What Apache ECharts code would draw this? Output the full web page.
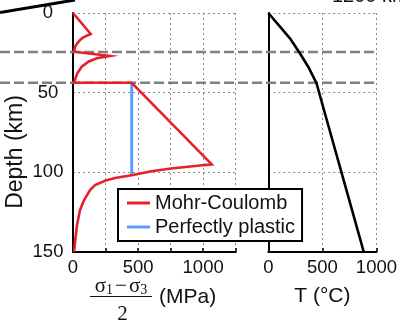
<!DOCTYPE html>
<html><head><meta charset="utf-8">
<script src="https://cdn.jsdelivr.net/npm/echarts@6/dist/echarts.min.js"></script>
<style>html,body{margin:0;padding:0;background:#fff}#c{width:400px;height:325px}</style>
</head><body><div id="c"></div>
<script>
// ---- data ----
const depthTicks = [0, 50, 100, 150];
const stressLabelTicks = [0, 500, 1000];
const seriesNames = ['Mohr-Coulomb', 'Perfectly plastic'];
// Mohr-Coulomb strength envelope: stress (MPa) vs depth (km)
const mcStress = [0, 136, 79, 54, 28, 15, 8, 284, 182, 118, 67, 33, 15, 8, 451, 1066, 976, 753, 592, 461, 323, 251, 169, 131, 85, 54, 31, 19, 8];
const mcDepth  = [0, 13.2, 15.3, 16.9, 19.5, 21.5, 24.3, 27.0, 28.4, 30.6, 33.7, 37.8, 42.0, 43.8, 43.8, 95.0, 95.7, 97.6, 99.5, 101.7, 103.6, 105.1, 108.0, 111.1, 117.4, 123.6, 133.0, 141.2, 150];
// Perfectly plastic (visible segment)
const ppStress = [451, 451];
const ppDepth  = [43.8, 101.7];
// Temperature profile
const tempT     = [0, 108, 200, 292, 369, 446, 489, 774, 883];
const tempDepth = [0, 8.6, 15.9, 25.3, 33.7, 44.1, 54.6, 123.6, 150];
// layer boundaries (dashed)
const boundaryDepths = [24.5, 43.8];

const FONT = "'Liberation Sans', Arial, sans-serif";
const SERIF = "'Liberation Serif', 'Times New Roman', serif";
const zip = (a, b) => a.map((v, i) => [v, b[i]]);

const chart = echarts.init(document.getElementById('c'), null, {renderer: 'canvas'});

const dotted = {show: true, lineStyle: {color: '#8a8a8a', width: 1, type: [2, 3]}};
const axisLineBlack = {show: true, onZero: false, lineStyle: {color: '#000', width: 2}};
const tickIn = {show: true, inside: true, length: 4, lineStyle: {color: '#000', width: 1.5}};
const lblStyle = {fontSize: 18.5, color: '#111', fontFamily: FONT};

const option = {
  animation: false,
  backgroundColor: '#fff',
  grid: [
    {left: 73, top: 13, width: 162.7, height: 239},
    {left: 268.3, top: 13, width: 108.4, height: 239},
    {left: 0, top: 13, width: 376.7, height: 239}
  ],
  xAxis: [
    {gridIndex: 0, type: 'value', min: 0, max: 1250, interval: 250,
     axisLine: axisLineBlack, axisTick: tickIn, splitLine: dotted,
     axisLabel: Object.assign({margin: 6, formatter: v => stressLabelTicks.includes(v) ? String(v) : ''}, lblStyle)},
    {gridIndex: 1, type: 'value', min: 0, max: 1000, interval: 500,
     axisLine: axisLineBlack, axisTick: tickIn, splitLine: dotted,
     axisLabel: Object.assign({margin: 6, formatter: v => String(v)}, lblStyle),
     name: 'T (°C)', nameLocation: 'middle', nameGap: 34,
     nameTextStyle: {fontSize: 21, color: '#111', fontFamily: FONT}},
    {gridIndex: 2, type: 'value', min: 0, max: 1, show: false}
  ],
  yAxis: [
    {gridIndex: 0, type: 'value', min: depthTicks[0], max: depthTicks[depthTicks.length - 1], interval: 50, inverse: true,
     axisLine: axisLineBlack, axisTick: {show: false}, splitLine: dotted,
     axisLabel: Object.assign({margin: 25, align: 'center', formatter: v => String(v)}, lblStyle)},
    {gridIndex: 1, type: 'value', min: 0, max: 150, interval: 50, inverse: true,
     axisLine: axisLineBlack, axisTick: {show: false}, splitLine: dotted,
     axisLabel: {show: false}},
    {gridIndex: 2, type: 'value', min: 0, max: 150, inverse: true, show: false}
  ],
  legend: {
    data: seriesNames.map(n => ({name: n, icon: 'rect'})),
    orient: 'vertical', left: 118, top: 189,
    borderColor: '#000', borderWidth: 2, backgroundColor: '#fff', borderRadius: 0,
    padding: [4, 7, 4, 9], itemGap: 4, itemWidth: 23, itemHeight: 3,
    selectedMode: false, z: 10,
    textStyle: {fontSize: 20, color: '#111', fontFamily: FONT}
  },
  series: [
    ...boundaryDepths.map(d => ({
      type: 'line', xAxisIndex: 2, yAxisIndex: 2, data: [[0, d], [1, d]],
      symbol: 'none', silent: true, z: 1,
      lineStyle: {color: '#808080', width: 2.5, type: [10, 4]}
    })),
    {name: seriesNames[1], type: 'line', xAxisIndex: 0, yAxisIndex: 0, data: zip(ppStress, ppDepth),
     symbol: 'none', z: 3, color: '#5b9cff', lineStyle: {color: '#5b9cff', width: 3}},
    {name: seriesNames[0], type: 'line', xAxisIndex: 0, yAxisIndex: 0, data: zip(mcStress, mcDepth),
     symbol: 'none', z: 4, color: '#e6212b', lineStyle: {color: '#e6212b', width: 2.6, join: 'miter'}},
    {name: 'T', type: 'line', xAxisIndex: 1, yAxisIndex: 1, data: zip(tempT, tempDepth),
     symbol: 'none', z: 4, color: '#000', lineStyle: {color: '#000', width: 2.6}}
  ],
  graphic: [
    {type: 'line', shape: {x1: 0, y1: 12.5, x2: 75, y2: 0}, style: {stroke: '#000', lineWidth: 3}, z: 5},
    {type: 'text', x: 332, y: 6, style: {text: '1200 km', fontSize: 20, fill: '#111', fontFamily: FONT, align: 'left', verticalAlign: 'bottom'}},
    {type: 'text', x: 16, y: 152, rotation: Math.PI / 2,
     style: {text: 'Depth (km)', fontSize: 23, fill: '#111', fontFamily: FONT, align: 'center', verticalAlign: 'middle'}},
    {type: 'text', x: 121, y: 297.7,
     style: {text: '{s|σ}{b|1}{m|−}{s|σ}{b|3}', align: 'center', verticalAlign: 'bottom', fill: '#111',
       rich: {
         s: {fontSize: 21, fontFamily: SERIF, lineHeight: 22, fill: '#111'},
         m: {fontSize: 21, fontFamily: SERIF, lineHeight: 22, fill: '#111', padding: [0, 2]},
         b: {fontSize: 14, fontFamily: SERIF, lineHeight: 14, verticalAlign: 'bottom', fill: '#111'}
       }}},
    {type: 'line', shape: {x1: 90, y1: 296.5, x2: 152, y2: 296.5}, style: {stroke: '#111', lineWidth: 1.2}},
    {type: 'text', x: 122.5, y: 314, style: {text: '2', fontSize: 21, fontFamily: SERIF, fill: '#111', align: 'center', verticalAlign: 'middle'}},
    {type: 'text', x: 159, y: 297, style: {text: '(MPa)', fontSize: 21, fontFamily: FONT, fill: '#111', align: 'left', verticalAlign: 'middle'}}
  ]
};
chart.setOption(option);
</script>
</body></html>
